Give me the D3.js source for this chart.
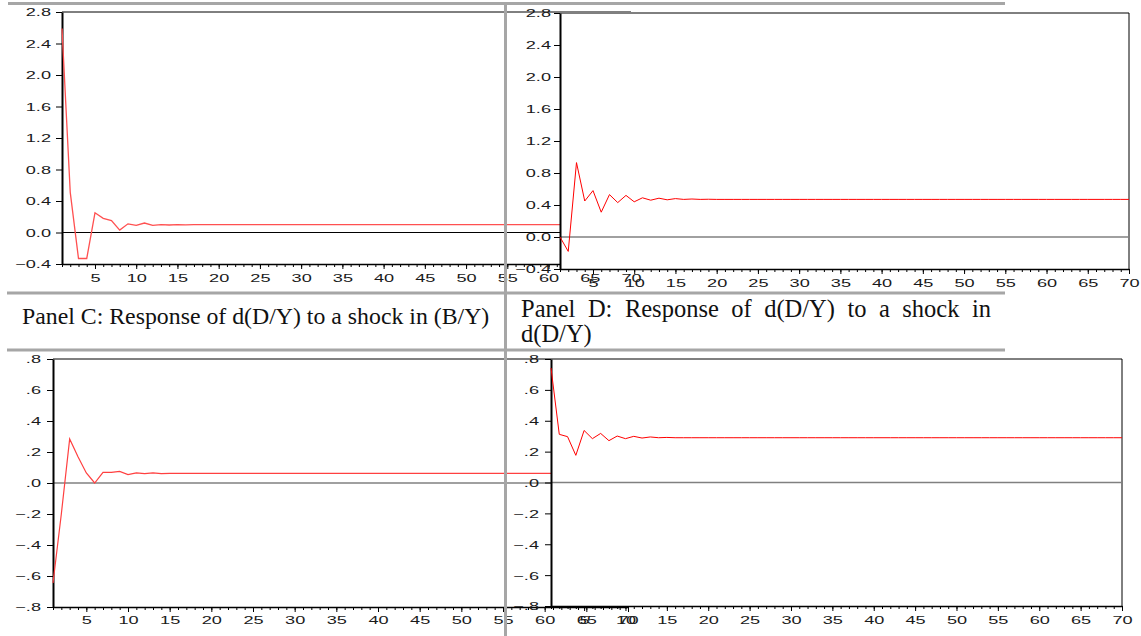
<!DOCTYPE html>
<html>
<head>
<meta charset="utf-8">
<script src="https://cdn.jsdelivr.net/npm/d3@7"></script>
<style>
  body { margin: 0; background: #fff; }
  svg { display: block; }
</style>
</head>
<body>
<div id="chart"></div>
<script>
const periods = d3.range(1, 71);

// response of d(D/Y), panel A (top left)
const respA = [
  2.59, 0.51, -0.33, -0.33, 0.25, 0.18, 0.15, 0.03, 0.11, 0.09,
  0.12, 0.09, 0.10, 0.095, 0.10, 0.098, 0.10, 0.099, 0.10, 0.10,
  0.10, 0.10, 0.10, 0.10, 0.10, 0.10, 0.10, 0.10, 0.10, 0.10,
  0.10, 0.10, 0.10, 0.10, 0.10, 0.10, 0.10, 0.10, 0.10, 0.10,
  0.10, 0.10, 0.10, 0.10, 0.10, 0.10, 0.10, 0.10, 0.10, 0.10,
  0.10, 0.10, 0.10, 0.10, 0.10, 0.10, 0.10, 0.10, 0.10, 0.10,
  0.10, 0.10, 0.10, 0.10, 0.10, 0.10, 0.10, 0.10, 0.10, 0.10
];
// panel B (top right)
const respB = [
  0.00, -0.18, 0.93, 0.45, 0.58, 0.31, 0.53, 0.43, 0.52, 0.44,
  0.49, 0.46, 0.485, 0.465, 0.48, 0.47, 0.475, 0.47, 0.472, 0.47,
  0.47, 0.47, 0.47, 0.47, 0.47, 0.47, 0.47, 0.47, 0.47, 0.47,
  0.47, 0.47, 0.47, 0.47, 0.47, 0.47, 0.47, 0.47, 0.47, 0.47,
  0.47, 0.47, 0.47, 0.47, 0.47, 0.47, 0.47, 0.47, 0.47, 0.47,
  0.47, 0.47, 0.47, 0.47, 0.47, 0.47, 0.47, 0.47, 0.47, 0.47,
  0.47, 0.47, 0.47, 0.47, 0.47, 0.47, 0.47, 0.47, 0.47, 0.47
];
// panel C: response of d(D/Y) to a shock in (B/Y)
const respC = [
  -0.645, -0.20, 0.284, 0.17, 0.065, 0.00, 0.068, 0.068, 0.075, 0.054,
  0.065, 0.06, 0.065, 0.06, 0.062, 0.062, 0.062, 0.062, 0.062, 0.062,
  0.062, 0.062, 0.062, 0.062, 0.062, 0.062, 0.062, 0.062, 0.062, 0.062,
  0.062, 0.062, 0.062, 0.062, 0.062, 0.062, 0.062, 0.062, 0.062, 0.062,
  0.062, 0.062, 0.062, 0.062, 0.062, 0.062, 0.062, 0.062, 0.062, 0.062,
  0.062, 0.062, 0.062, 0.062, 0.062, 0.062, 0.062, 0.062, 0.062, 0.062,
  0.062, 0.062, 0.062, 0.062, 0.062, 0.062, 0.062, 0.062, 0.062, 0.062
];
// panel D: response of d(D/Y) to a shock in d(D/Y)
const respD = [
  0.742, 0.312, 0.297, 0.176, 0.337, 0.284, 0.318, 0.271, 0.301, 0.284,
  0.299, 0.288, 0.295, 0.29, 0.292, 0.29, 0.29, 0.29, 0.29, 0.29,
  0.29, 0.29, 0.29, 0.29, 0.29, 0.29, 0.29, 0.29, 0.29, 0.29,
  0.29, 0.29, 0.29, 0.29, 0.29, 0.29, 0.29, 0.29, 0.29, 0.29,
  0.29, 0.29, 0.29, 0.29, 0.29, 0.29, 0.29, 0.29, 0.29, 0.29,
  0.29, 0.29, 0.29, 0.29, 0.29, 0.29, 0.29, 0.29, 0.29, 0.29,
  0.29, 0.29, 0.29, 0.29, 0.29, 0.29, 0.29, 0.29, 0.29, 0.29
];

const ticksTop = [-0.4, 0.0, 0.4, 0.8, 1.2, 1.6, 2.0, 2.4, 2.8];
const ticksBottom = [-0.8, -0.6, -0.4, -0.2, 0.0, 0.2, 0.4, 0.6, 0.8];
const xLabels = [5, 10, 15, 20, 25, 30, 35, 40, 45, 50, 55, 60, 65, 70];

const titleC = "Panel C: Response of d(D/Y) to a shock in (B/Y)";
const titleD1 = "Panel D: Response of d(D/Y) to a shock in";
const titleD2 = "d(D/Y)";

const W = 1141, H = 636;
const SX = 1.65;         // tick labels are stretched sideways in the source
const FS = 11;
const SEP = "#a6a6a6";
const fmtTop = d3.format(".1f");
const fmtBottom = v => d3.format(".1f")(v).replace("0.", ".");

const svg = d3.select("#chart").append("svg")
  .attr("width", W).attr("height", H);

function panel(cfg) {
  const g = svg.append("g");
  const x = d3.scaleLinear().domain([1, 70]).range([cfg.left, cfg.right]);
  const y = d3.scaleLinear().domain(cfg.yDomain).range([cfg.bottom, cfg.top]);

  if (cfg.opaque) {
    g.append("rect")
      .attr("x", cfg.left).attr("y", cfg.top - 1)
      .attr("width", cfg.right - cfg.left + 1)
      .attr("height", cfg.bottom - cfg.top + 1)
      .attr("fill", "#fff");
  }

  // frame: top and right
  g.append("path")
    .attr("d", `M${cfg.left},${cfg.top}H${cfg.right}V${cfg.bottom}`)
    .attr("fill", "none").attr("stroke", "#000").attr("stroke-width", 1);

  g.append("line")
    .attr("x1", cfg.left).attr("x2", cfg.right)
    .attr("y1", y(0)).attr("y2", y(0))
    .attr("stroke", cfg.zeroColor).attr("stroke-width", cfg.zeroWidth);

  // minor ticks every period
  g.append("g")
    .attr("transform", `translate(0,${cfg.bottom})`)
    .call(d3.axisBottom(x).tickValues(periods).tickSize(3).tickSizeOuter(0).tickFormat(""))
    .call(a => a.select(".domain").remove())
    .call(a => a.selectAll("line").attr("stroke", "#000"));

  // major ticks with labels
  const xa = g.append("g")
    .attr("transform", `translate(0,${cfg.bottom})`)
    .call(d3.axisBottom(x).tickValues(xLabels).tickSize(5).tickSizeOuter(0));
  xa.select(".domain").attr("stroke", "#000").attr("stroke-width", 1.5);
  xa.selectAll("text")
    .attr("y", cfg.xLabelY).attr("dy", 0)
    .attr("transform", `scale(${SX},1)`)
    .attr("font-family", "'Liberation Sans', Arial, sans-serif")
    .attr("font-size", FS).attr("fill", "#1a1a1a");

  const ya = g.append("g")
    .attr("transform", `translate(${cfg.left},0)`)
    .call(d3.axisLeft(y).tickValues(cfg.yTicks).tickFormat(cfg.fmt).tickSize(6).tickSizeOuter(0));
  ya.select(".domain").attr("stroke", "#000").attr("stroke-width", 2);
  ya.selectAll("text")
    .attr("x", -cfg.yLabelGap / SX).attr("dy", "0.36em")
    .attr("transform", `scale(${SX},1)`)
    .attr("font-family", "'Liberation Sans', Arial, sans-serif")
    .attr("font-size", FS).attr("fill", "#1a1a1a");

  g.append("path")
    .datum(cfg.values)
    .attr("fill", "none")
    .attr("stroke", cfg.lineColor)
    .attr("stroke-width", cfg.lineWidth)
    .attr("d", d3.line().x((d, i) => x(periods[i])).y(d => y(d)));
}

panel({ left: 62, right: 631, top: 12, bottom: 264, yDomain: [-0.4, 2.8],
  yTicks: ticksTop, fmt: fmtTop, values: respA, zeroColor: "#000", zeroWidth: 1,
  lineColor: "#ff5050", lineWidth: 1.3, opaque: false, xLabelY: 18, yLabelGap: 11 });
panel({ left: 560, right: 1129, top: 13, bottom: 269, yDomain: [-0.4, 2.8],
  yTicks: ticksTop, fmt: fmtTop, values: respB, zeroColor: "#808080", zeroWidth: 1.5,
  lineColor: "#f00", lineWidth: 1, opaque: true, xLabelY: 18, yLabelGap: 9 });
panel({ left: 53, right: 628, top: 359, bottom: 607, yDomain: [-0.8, 0.8],
  yTicks: ticksBottom, fmt: fmtBottom, values: respC, zeroColor: "#808080", zeroWidth: 1.5,
  lineColor: "#ff4040", lineWidth: 1.2, opaque: false, xLabelY: 17, yLabelGap: 12 });
panel({ left: 551, right: 1122, top: 359, bottom: 606, yDomain: [-0.8, 0.8],
  yTicks: ticksBottom, fmt: fmtBottom, values: respD, zeroColor: "#808080", zeroWidth: 1.5,
  lineColor: "#f00", lineWidth: 1, opaque: true, xLabelY: 18, yLabelGap: 12 });

// grey separators of the page layout
const seps = svg.append("g").attr("stroke", SEP).attr("stroke-width", 3);
seps.append("line").attr("x1", 8).attr("x2", 1005).attr("y1", 3.5).attr("y2", 3.5);
seps.append("line").attr("x1", 7).attr("x2", 1005).attr("y1", 293).attr("y2", 293);
seps.append("line").attr("x1", 7).attr("x2", 1005).attr("y1", 350).attr("y2", 350);
seps.append("line").attr("x1", 505.5).attr("x2", 505.5).attr("y1", 2).attr("y2", H);

// panel captions
const serif = "'Liberation Serif', 'Times New Roman', serif";
svg.append("text")
  .attr("x", 22).attr("y", 324)
  .attr("font-family", serif).attr("font-size", 23.8).attr("fill", "#111")
  .text(titleC);

// justified first line of panel D caption
const words = titleD1.split(" ");
const lineD = svg.append("g")
  .attr("font-family", serif).attr("font-size", 24.5).attr("fill", "#111");
const wordNodes = words.map(w => lineD.append("text").attr("y", 317).text(w));
const widths = wordNodes.map(n => n.node().getComputedTextLength());
const x0 = 521, x1 = 991;
const gap = (x1 - x0 - d3.sum(widths)) / (words.length - 1);
let cx = x0;
wordNodes.forEach((n, i) => { n.attr("x", cx); cx += widths[i] + gap; });
lineD.append("text").attr("x", x0).attr("y", 342).text(titleD2);
</script>
</body>
</html>
